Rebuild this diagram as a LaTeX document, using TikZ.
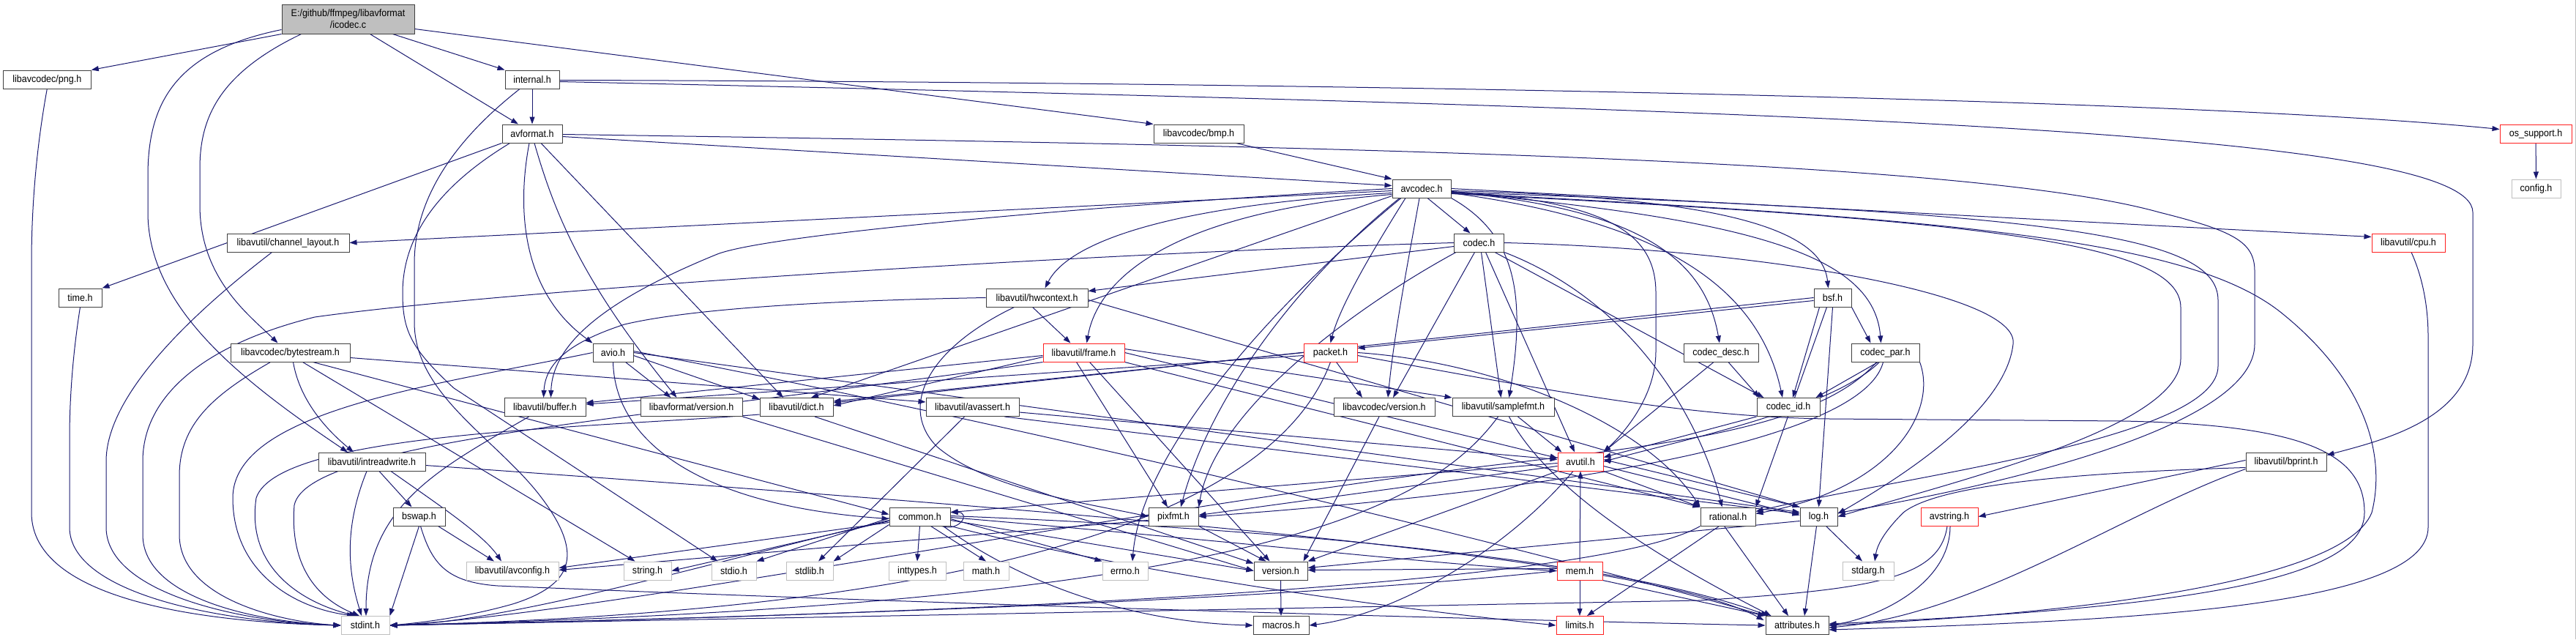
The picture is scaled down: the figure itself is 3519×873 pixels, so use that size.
\documentclass[tikz,border=0pt]{standalone}
\usepackage{fontspec}
\setmainfont{Liberation Sans}[FakeStretch=0.92]
\usetikzlibrary{arrows.meta,calc}
\definecolor{edgec}{HTML}{191970}
\definecolor{grayb}{HTML}{BFBFBF}
\definecolor{darkb}{HTML}{404040}
\definecolor{redb}{HTML}{FF2020}
\pgfdeclarelayer{back}
\pgfdeclarelayer{bg}
\pgfsetlayers{back,bg,main}
\tikzset{
  box/.style={draw=darkb, line width=1pt, fill=white, minimum height=25pt, inner xsep=1pt, inner ysep=0pt,
              font=\fontsize{13.6}{16}\selectfont, text=black},
  redbox/.style={box, draw=redb},
  graybox/.style={box, draw=grayb},
  e/.style={draw=edgec, line width=1pt, -{Triangle[length=10pt,width=7pt]}},
}
\begin{document}
\begin{tikzpicture}[x=1pt,y=-1pt]
\begin{pgfonlayer}{back}
\fill[white] (0,0) rectangle (3519,873);
\end{pgfonlayer}
\useasboundingbox (0,0) rectangle (3519,873);
% ---------------- nodes ----------------
\node[box, fill=grayb, minimum width=181pt, minimum height=40pt, align=center] (icodec) at (475.5,26) {E:/github/ffmpeg/libavformat\\/icodec.c};
\node[box, minimum width=120pt] (png) at (64.3,108.5) {libavcodec/png.h};
\node[box, minimum width=74pt] (internal) at (727,108.5) {internal.h};
\node[box, minimum width=82pt] (avformat) at (727,182.5) {avformat.h};
\node[box, minimum width=123pt] (bmp) at (1637.5,182.5) {libavcodec/bmp.h};
\node[redbox, minimum width=98pt] (ossupport) at (3464,182.5) {os\_support.h};
\node[box, minimum width=80pt] (avcodec) at (1942,257.5) {avcodec.h};
\node[graybox, minimum width=67pt] (config) at (3464.5,257.5) {config.h};
\node[box, minimum width=167pt] (chlayout) at (393.5,331.5) {libavutil/channel\_layout.h};
\node[box, minimum width=68pt] (codec) at (2020.5,331.5) {codec.h};
\node[redbox, minimum width=100pt] (cpu) at (3290,331.5) {libavutil/cpu.h};
\node[box, minimum width=59pt] (time) at (109.5,406.5) {time.h};
\node[box, minimum width=139pt] (hwcontext) at (1416.5,406.5) {libavutil/hwcontext.h};
\node[box, minimum width=51pt] (bsf) at (2503.5,406.5) {bsf.h};
\node[box, minimum width=163pt] (bytestream) at (396.5,481.5) {libavcodec/bytestream.h};
\node[box, minimum width=55pt] (avio) at (837.5,481.5) {avio.h};
\node[redbox, minimum width=111pt] (frame) at (1480.5,481.5) {libavutil/frame.h};
\node[redbox, minimum width=73pt] (packet) at (1817.5,481.5) {packet.h};
\node[box, minimum width=102pt] (codecdesc) at (2351,481.5) {codec\_desc.h};
\node[box, minimum width=93pt] (codecpar) at (2575.5,481.5) {codec\_par.h};
\node[box, minimum width=111pt] (buffer) at (744.5,556) {libavutil/buffer.h};
\node[box, minimum width=139pt] (lavfversion) at (944.5,556) {libavformat/version.h};
\node[box, minimum width=100pt] (dict) at (1088,556) {libavutil/dict.h};
\node[box, minimum width=127pt] (avassert) at (1328.5,556) {libavutil/avassert.h};
\node[box, minimum width=138pt] (lavcversion) at (1891,556) {libavcodec/version.h};
\node[box, minimum width=139pt] (samplefmt) at (2053.5,556) {libavutil/samplefmt.h};
\node[box, minimum width=86pt] (codecid) at (2443,556) {codec\_id.h};
\node[box, minimum width=146pt] (intreadwrite) at (508,630.5) {libavutil/intreadwrite.h};
\node[redbox, minimum width=62pt] (avutil) at (2159,630.5) {avutil.h};
\node[box, minimum width=110pt] (bprint) at (3123,630.5) {libavutil/bprint.h};
\node[box, minimum width=71pt] (bswap) at (572.5,705.5) {bswap.h};
\node[box, minimum width=83pt] (common) at (1256.5,705.5) {common.h};
\node[box, minimum width=68pt] (pixfmt) at (1603,705.5) {pixfmt.h};
\node[box, minimum width=75pt] (rational) at (2360.5,705.5) {rational.h};
\node[box, minimum width=51pt] (log) at (2484.5,705.5) {log.h};
\node[redbox, minimum width=78pt] (avstring) at (2663,705.5) {avstring.h};
\node[graybox, minimum width=126pt] (avconfig) at (700,779.5) {libavutil/avconfig.h};
\node[graybox, minimum width=65pt] (string) at (884.5,779.5) {string.h};
\node[graybox, minimum width=61pt] (stdio) at (1002.5,779.5) {stdio.h};
\node[graybox, minimum width=64pt] (stdlib) at (1106,779.5) {stdlib.h};
\node[graybox, minimum width=78pt] (inttypes) at (1253,779.5) {inttypes.h};
\node[graybox, minimum width=62pt] (math) at (1347,779.5) {math.h};
\node[graybox, minimum width=62pt] (errno) at (1537,779.5) {errno.h};
\node[box, minimum width=73pt] (version) at (1749.5,779.5) {version.h};
\node[redbox, minimum width=62pt] (mem) at (2158,779.5) {mem.h};
\node[graybox, minimum width=70pt] (stdarg) at (2552,779.5) {stdarg.h};
\node[graybox, minimum width=66pt] (stdint) at (499,854) {stdint.h};
\node[box, minimum width=76pt] (macros) at (1750,854) {macros.h};
\node[redbox, minimum width=64pt] (limits) at (2158,854) {limits.h};
\node[box, minimum width=86pt] (attributes) at (2455,854) {attributes.h};
% ---------------- edges ----------------
\begin{pgfonlayer}{bg}
% icodec.c
\draw[e] (icodec.south west) -- (png.north east);
\draw[e] ($(icodec.south)+(61,0)$) -- (internal.north west);
\draw[e] ($(icodec.south)+(30,0)$) -- ($(avformat.north)+(-19,0)$);
\draw[e] ($(icodec.south east)+(0,-7)$) -- (bmp.north west);
\draw[e] ($(icodec.south west)+(0,-6)$) .. controls (240,70) and (202,140) .. (202,240) -- (202,290) .. controls (202,420) and (330,520) .. ($(intreadwrite.north)+(-33,0)$);
\draw[e] ($(icodec.south)+(-64,0)$) .. controls (300,100) and (273,160) .. (273,230) -- (273,280) .. controls (273,380) and (340,430) .. ($(bytestream.north)+(-17,0)$);
% into stdint from the left
\draw[e] (png.south) .. controls (50,200) and (43,280) .. (43,360) -- (43,700) .. controls (43,820) and (280,850) .. (stdint.west);
\draw[e] (time.south) .. controls (100,480) and (95,540) .. (95,600) -- (95,720) .. controls (95,810) and (300,850) .. (stdint.west);
\draw[e] ($(chlayout.south)+(-22,0)$) .. controls (260,430) and (145,540) .. (145,630) -- (145,720) .. controls (145,810) and (330,850) .. (stdint.west);
\draw[e] (codec.west) .. controls (1500,345) and (700,395) .. (430,433) .. controls (280,470) and (195,540) .. (195,630) -- (195,730) .. controls (195,820) and (360,850) .. (stdint.west);
\draw[e] ($(bytestream.south)+(-27,0)$) .. controls (290,540) and (245,580) .. (245,650) -- (245,730) .. controls (245,820) and (390,850) .. (stdint.west);
\draw[e] (avio.west) .. controls (600,525) and (318,560) .. (318,680) .. controls (318,780) and (400,830) .. ($(stdint.north)+(-15,0)$);
\draw[e] ($(dict.west)+(0,10)$) .. controls (800,585) and (380,590) .. (350,680) .. controls (335,780) and (420,825) .. ($(stdint.north)+(-12,0)$);
\draw[e] (frame.south west) .. controls (900,570) and (420,600) .. (402,690) .. controls (395,780) and (440,820) .. ($(stdint.north)+(-8,0)$);
\draw[e] ($(intreadwrite.south)+(-7,0)$) .. controls (470,720) and (475,780) .. ($(stdint.north)+(-5,0)$);
\draw[e] ($(buffer.south)+(-22,0)$) .. controls (600,640) and (500,690) .. ($(stdint.north)+(1,0)$);
\draw[e] (bswap.south) -- (stdint.north east);
\draw[e] ($(internal.south)+(-17,0)$) .. controls (610,200) and (566,280) .. (566,360) -- (566,440) .. controls (566,540) and (680,600) .. (740,680) .. controls (800,760) and (780,800) .. (700,825) .. controls (640,842) and (580,850) .. (stdint.east);
% into stdint from the right
\draw[e] (packet.south) .. controls (1760,650) and (1500,830) .. (stdint.east);
\draw[e] ($(samplefmt.south)+(-7,0)$) .. controls (1950,700) and (1700,825) .. (stdint.east);
\draw[e] ($(codecpar.south)+(-12,0)$) .. controls (2480,590) and (2250,610) .. (2000,640) .. controls (1400,720) and (800,840) .. (stdint.east);
\draw[e] (rational.south west) .. controls (2200,790) and (1500,835) .. (stdint.east);
\draw[e] (mem.west) .. controls (1800,815) and (1200,840) .. (stdint.east);
\draw[e] ($(common.west)+(0,5)$) .. controls (1000,760) and (700,850) .. (stdint.east);
\draw[e] ($(avstring.south)+(-3,0)$) .. controls (2650,790) and (2560,805) .. (2320,820) -- (stdint.east);
% internal.h
\draw[e] (internal) -- (avformat);
\draw[e] ($(internal.east)+(0,1)$) .. controls (1800,112) and (3000,135) .. ($(ossupport.west)+(0,-6)$);
\draw[e] ($(internal.east)+(0,3)$) .. controls (2500,150) and (3378,180) .. (3378,290) -- (3378,470) .. controls (3378,570) and (3260,600) .. ($(bprint.north east)+(0,4)$);
% avformat.h
\draw[e] (avformat.south west) -- (time.north east);
\draw[e] ($(avformat.south west)+(11,0)$) .. controls (590,260) and (550,330) .. (550,400) .. controls (550,450) and (560,475) .. (620,530) -- ($(stdio.north)+(-22,0)$);
\draw[e] ($(avformat.east)+(0,4)$) -- ($(avcodec.west)+(0,-4)$);
\draw[e] ($(avformat.south)+(12,0)$) -- ($(dict.north)+(-18,0)$);
\draw[e] ($(avformat.south)+(-4,0)$) .. controls (705,290) and (715,400) .. (avio.north west);
\draw[e] ($(avformat.south)+(3,0)$) .. controls (760,300) and (800,390) .. ($(lavfversion.north)+(-20,0)$);
\draw[e] ($(avformat.east)+(0,1)$) .. controls (1900,200) and (2700,220) .. (2950,290) .. controls (3050,315) and (3080,330) .. (3080,370) -- (3080,470) .. controls (3080,580) and (2750,660) .. ($(log.east)+(0,-5)$);
% bmp.h, os_support.h
\draw[e] ($(bmp.south east)+(-11,0)$) -- (avcodec.north west);
\draw[e] (ossupport) -- (config);
% avcodec.h
\draw[e] ($(avcodec.south)+(-28,0)$) .. controls (1780,380) and (1560,600) .. ($(errno.north)+(10,0)$);
\draw[e] ($(avcodec.south)+(-30,0)$) .. controls (1800,360) and (1660,520) .. ($(pixfmt.north)+(10,0)$);
\draw[e] ($(avcodec.south)+(-3,0)$) .. controls (1925,350) and (1905,450) .. ($(lavcversion.north)+(5,0)$);
\draw[e] ($(avcodec.south)+(-22,0)$) .. controls (1870,350) and (1830,420) .. (packet.north);
\draw[e] ($(avcodec.south)+(8,0)$) -- ($(codec.north)+(-12,0)$);
\draw[e] (avcodec.south east) .. controls (2070,320) and (2085,400) .. ($(samplefmt.north)+(8,0)$);
\draw[e] ($(avcodec.east)+(0,4)$) .. controls (2200,275) and (2262,320) .. (2262,400) -- (2262,480) .. controls (2262,540) and (2220,590) .. (avutil.north east);
\draw[e] ($(avcodec.east)+(0,5)$) .. controls (2250,285) and (2330,360) .. ($(codecdesc.north)+(-2,0)$);
\draw[e] ($(avcodec.east)+(0,6)$) .. controls (2250,300) and (2400,380) .. ($(codecid.north)+(-8,0)$);
\draw[e] ($(avcodec.east)+(0,3)$) .. controls (2380,270) and (2490,320) .. ($(bsf.north)+(-6,0)$);
\draw[e] ($(avcodec.east)+(0,5)$) .. controls (2400,300) and (2560,350) .. ($(codecpar.north)+(-6,0)$);
\draw[e] (avcodec.east) -- ($(cpu.west)+(0,-8)$);
\draw[e] ($(avcodec.east)+(0,7)$) .. controls (2700,300) and (2979,330) .. (2979,420) -- (2979,490) .. controls (2979,580) and (2700,650) .. (log.east);
\draw[e] ($(avcodec.east)+(0,5)$) .. controls (2800,290) and (3030,320) .. (3030,410) -- (3030,500) .. controls (3030,600) and (2600,650) .. ($(rational.north east)+(0,6)$);
\draw[e] ($(avcodec.east)+(0,6)$) .. controls (2700,300) and (3000,330) .. (3120,430) .. controls (3230,520) and (3260,620) .. (3240,700) .. controls (3200,800) and (2800,840) .. (attributes.east);
\draw[e] ($(avcodec.west)+(0,3)$) -- (chlayout.east);
\draw[e] ($(avcodec.south west)+(0,-3)$) -- ($(dict.north)+(20,0)$);
\draw[e] ($(avcodec.west)+(0,8)$) .. controls (1600,290) and (1500,380) .. ($(frame.north)+(4,0)$);
\draw[e] ($(avcodec.west)+(0,6)$) .. controls (1600,280) and (1460,330) .. ($(hwcontext.north)+(11,0)$);
\draw[e] (avcodec.west) .. controls (1500,280) and (1050,320) .. (980,347) .. controls (850,400) and (755,460) .. ($(buffer.north)+(8,0)$);
% codec.h
\draw[e] ($(codec.south)+(9,0)$) -- ($(avutil.north)+(-8,0)$);
\draw[e] ($(codec.west)+(0,5)$) -- ($(hwcontext.east)+(0,-9)$);
\draw[e] (codec.east) .. controls (2400,340) and (2760,400) .. (2750,470) .. controls (2740,560) and (2600,650) .. ($(log.east)+(0,-4)$);
\draw[e] ($(codec.south west)+(3,0)$) .. controls (1850,420) and (1660,560) .. (pixfmt.north east);
\draw[e] (codec.south east) .. controls (2250,420) and (2330,600) .. ($(rational.north)+(-8,0)$);
\draw[e] ($(codec.south)+(3,0)$) -- ($(samplefmt.north)+(-3,0)$);
\draw[e] ($(codec.south east)+(-13,0)$) -- ($(codecid.north west)+(10,0)$);
\draw[e] ($(codec.south)+(-6,0)$) -- ($(lavcversion.north)+(12,0)$);
% bsf.h
\draw[e] (bsf.west) -- ($(dict.east)+(0,-6)$);
\draw[e] ($(bsf.west)+(0,4)$) -- ($(packet.east)+(0,-6)$);
\draw[e] (bsf.south) -- (log.north);
\draw[e] ($(bsf.south)+(-8,0)$) -- (rational.north east);
\draw[e] ($(bsf.south)+(-18,0)$) -- ($(codecid.north)+(6,0)$);
\draw[e] (bsf.south east) -- ($(codecpar.north)+(-20,0)$);
% bytestream.h
\draw[e] ($(bytestream.south)+(4,0)$) .. controls (410,550) and (450,590) .. ($(intreadwrite.north)+(-25,0)$);
\draw[e] ($(bytestream.south)+(17,0)$) -- ($(string.north)+(-17,0)$);
\draw[e] ($(bytestream.south)+(31,0)$) -- ($(common.west)+(0,-3)$);
\draw[e] ($(bytestream.east)+(0,7)$) -- ($(avassert.west)+(0,-7)$);
% avio.h
\draw[e] ($(avio.east)+(0,4)$) -- ($(dict.north west)+(0,2)$);
\draw[e] ($(avio.south)+(17,0)$) -- ($(lavfversion.north)+(-28,0)$);
\draw[e] (avio.south) .. controls (840,600) and (950,690) .. ($(common.west)+(0,3)$);
\draw[e] (avio.east) -- ($(log.west)+(0,-6)$);
\draw[e] ($(avio.east)+(0,-2)$) .. controls (1500,600) and (2200,780) .. (attributes.north west);
% frame.h
\draw[e] (frame.east) -- ($(avutil.west)+(0,-5)$);
\draw[e] ($(frame.west)+(0,4)$) -- ($(buffer.east)+(0,-6)$);
\draw[e] ($(frame.west)+(0,6)$) -- ($(dict.east)+(0,-2)$);
\draw[e] (frame.south east) -- (rational.north west);
\draw[e] ($(frame.east)+(0,-5)$) -- (samplefmt.north west);
\draw[e] ($(frame.south)+(-10,0)$) -- ($(pixfmt.north)+(-8,0)$);
\draw[e] ($(frame.south)+(8,0)$) -- ($(version.north)+(-15,0)$);
% hwcontext.h
\draw[e] ($(hwcontext.south)+(-6,0)$) -- ($(frame.north)+(-18,0)$);
\draw[e] ($(hwcontext.east)+(0,3)$) -- (log.north west);
\draw[e] ($(hwcontext.south)+(-31,0)$) .. controls (1260,480) and (1230,560) .. (1280,610) .. controls (1350,670) and (1500,690) .. (pixfmt.west);
\draw[e] (hwcontext.west) .. controls (1150,410) and (950,420) .. (853,443) .. controls (770,470) and (745,500) .. ($(buffer.north)+(-2,0)$);
% packet.h
\draw[e] ($(packet.west)+(0,4)$) -- ($(buffer.east)+(0,-4)$);
\draw[e] (packet.west) -- ($(dict.east)+(0,-8)$);
\draw[e] (packet.east) .. controls (2050,495) and (2250,580) .. (rational.north west);
\draw[e] ($(packet.south)+(8,0)$) -- ($(lavcversion.north)+(-30,0)$);
\draw[e] ($(packet.east)+(0,4)$) .. controls (2100,530) and (2300,570) .. (2500,572) -- (2900,575) .. controls (3150,580) and (3230,620) .. (3230,700) .. controls (3230,790) and (3000,830) .. ($(attributes.east)+(0,-2)$);
% codec_desc.h, codec_par.h, codec_id.h
\draw[e] ($(codecdesc.south)+(10,0)$) -- ($(codecid.north west)+(4,0)$);
\draw[e] ($(codecdesc.south)+(-10,0)$) -- (avutil.north east);
\draw[e] ($(codecpar.south)+(-10,0)$) -- ($(codecid.north east)+(-6,0)$);
\draw[e] ($(codecpar.south)+(-8,0)$) .. controls (2500,560) and (2300,600) .. (avutil.east);
\draw[e] (codecpar.south east) .. controls (2647,560) and (2588,666) .. ($(rational.east)+(0,-4)$);
\draw[e] ($(codecpar.south)+(-3,0)$) .. controls (2540,620) and (2000,680) .. (pixfmt.east);
\draw[e] (codecid.south west) -- ($(avutil.east)+(0,-6)$);
% samplefmt.h
\draw[e] ($(samplefmt.south)+(20,0)$) -- ($(avutil.north west)+(6,0)$);
\draw[e] ($(samplefmt.south)+(8,0)$) .. controls (2120,680) and (2300,780) .. ($(attributes.north west)+(8,0)$);
% versions, dict, buffer, avassert
\draw[e] ($(lavcversion.south)+(-7,0)$) -- ($(version.north east)+(-6,0)$);
\draw[e] (lavfversion.south east) -- (version.west);
\draw[e] ($(dict.south)+(25,0)$) -- ($(version.north west)+(0,3)$);
\draw[e] ($(avassert.south)+(-11,0)$) -- ($(stdlib.north)+(12,0)$);
\draw[e] ($(avassert.east)+(0,7)$) -- ($(avutil.west)+(0,-3)$);
\draw[e] ($(avassert.south east)+(-20,0)$) -- ($(log.west)+(0,-4)$);
% intreadwrite.h, bswap.h
\draw[e] ($(intreadwrite.south)+(10,0)$) -- ($(bswap.north)+(-10,0)$);
\draw[e] ($(intreadwrite.south)+(26,0)$) .. controls (600,690) and (660,730) .. ($(avconfig.north)+(-15,0)$);
\draw[e] ($(intreadwrite.east)+(0,5)$) .. controls (1500,700) and (2250,760) .. ($(attributes.north west)+(-2,6)$);
\draw[e] ($(bswap.south east)+(-10,0)$) -- ($(avconfig.north)+(-25,0)$);
\draw[e] ($(bswap.south)+(2,0)$) .. controls (590,770) and (610,795) .. (680,800) .. controls (1400,830) and (2200,850) .. (attributes.west);
% avutil.h
\draw[e] ($(avutil.west)+(0,2)$) -- ($(common.east)+(0,-6)$);
\draw[e] ($(avutil.west)+(0,6)$) -- ($(pixfmt.east)+(0,-2)$);
\draw[e] (avutil.south west) -- (version.north east);
\draw[e] ($(avutil.south)+(-10,0)$) .. controls (2050,760) and (1900,840) .. (macros.east);
\draw[e] (avutil.south east) -- (rational.north west);
\draw[e] ($(avutil.east)+(0,6)$) -- ($(log.west)+(0,-2)$);
% bprint.h, avstring.h
\draw[e] ($(bprint.west)+(0,-2)$) -- (avstring.east);
\draw[e] ($(bprint.south west)+(0,-3)$) .. controls (2900,700) and (2700,840) .. ($(attributes.east)+(0,3)$);
\draw[e] ($(bprint.west)+(0,8)$) .. controls (2850,645) and (2650,660) .. (2600,700) .. controls (2580,720) and (2565,740) .. ($(stdarg.north)+(9,0)$);
\draw[e] ($(avstring.south)+(1,0)$) .. controls (2664,800) and (2560,845) .. (attributes.east);
% common.h
\draw[e] ($(common.east)+(0,3)$) -- (errno.north west);
\draw[e] (common.south) -- (inttypes.north);
\draw[e] ($(common.south)+(15,0)$) -- (math.north);
\draw[e] (common.south east) .. controls (1500,770) and (1800,820) .. (limits.west);
\draw[e] ($(common.south east)+(-10,0)$) .. controls (1400,800) and (1550,850) .. (macros.west);
\draw[e] ($(common.east)+(0,5)$) -- (version.west);
\draw[e] ($(common.east)+(0,1)$) .. controls (1700,740) and (1950,770) .. (mem.west);
\draw[e] ($(common.east)+(0,-1)$) .. controls (1700,720) and (2200,760) .. ($(attributes.north west)+(4,0)$);
\draw[e] ($(common.west)+(0,2)$) -- (stdio.north east);
\draw[e] ($(common.south west)+(0,-2)$) -- (stdlib.north east);
\draw[e] ($(common.west)+(0,6)$) -- (string.east);
\draw[e] ($(common.west)+(0,8)$) -- ($(avconfig.east)+(0,-4)$);
\draw[e] ($(common.south east)+(-12,0)$) .. controls +(25,8) and +(28,0) .. ($(common.east)+(0,-6)$);
% pixfmt.h, rational.h, log.h, mem.h, version.h, cpu.h
\draw[e] ($(pixfmt.west)+(0,5)$) -- ($(avconfig.east)+(0,-1)$);
\draw[e] (pixfmt.south east) -- ($(version.north)+(-20,0)$);
\draw[e] ($(rational.south)+(-12,0)$) -- ($(limits.north)+(10,0)$);
\draw[e] ($(rational.south)+(-5,0)$) -- ($(attributes.north)+(-12,0)$);
\draw[e] ($(log.south)+(10,0)$) -- ($(stdarg.north)+(-8,0)$);
\draw[e] (log.north west) -- ($(avutil.east)+(0,-3)$);
\draw[e] ($(log.south)+(-3,0)$) -- ($(attributes.north)+(10,0)$);
\draw[e] ($(log.west)+(0,6)$) -- ($(version.east)+(0,-4)$);
\draw[e] (mem.south) -- (limits.north);
\draw[e] (mem.north) -- (avutil.south);
\draw[e] ($(mem.west)+(0,-3)$) -- ($(version.east)+(0,-1)$);
\draw[e] (mem.south east) -- (attributes.north west);
\draw[e] (version.south) -- (macros.north);
\draw[e] ($(cpu.south)+(4,0)$) .. controls (3310,380) and (3317,420) .. (3317,460) -- (3317,720) .. controls (3317,830) and (2900,848) .. ($(attributes.east)+(0,6)$);
\end{pgfonlayer}
\draw[grayb, line width=1pt] (3518.5,0) -- (3518.5,873);
\end{tikzpicture}
\end{document}
